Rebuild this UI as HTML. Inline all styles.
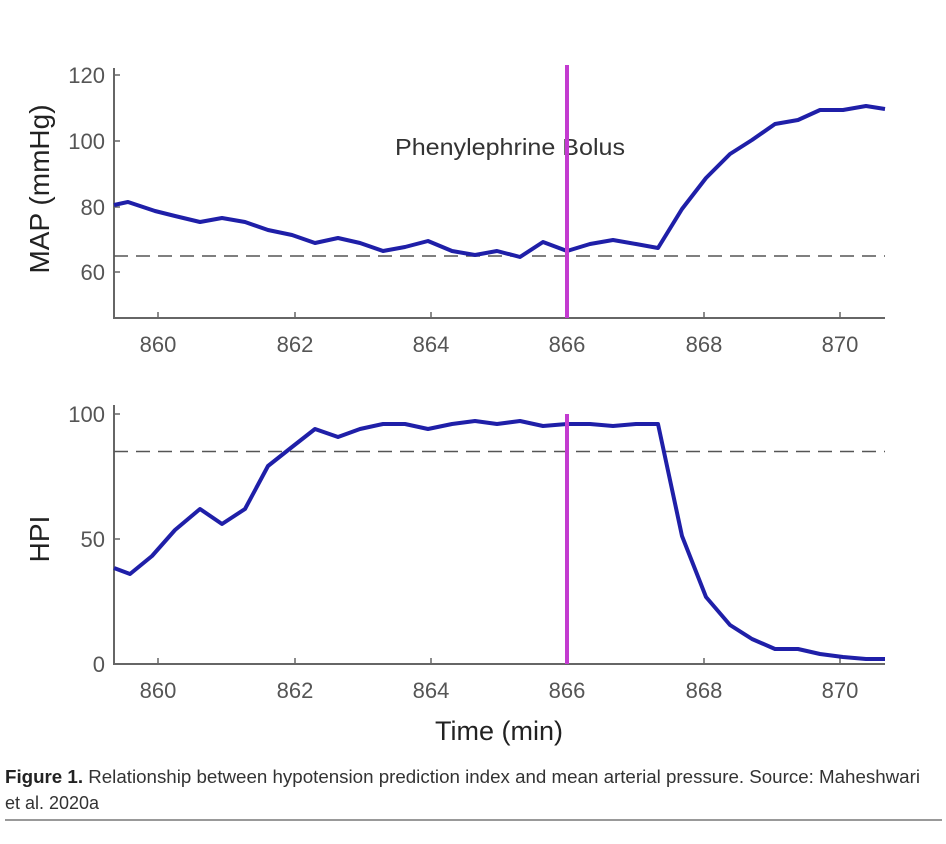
<!DOCTYPE html>
<html><head><meta charset="utf-8"><style>
body{margin:0;background:#fff;width:946px;height:839px;overflow:hidden}
svg text{font-family:"Liberation Sans",sans-serif}
.cap{font-family:"Liberation Sans Narrow","Liberation Sans",sans-serif;font-size:18px;fill:#333}
</style></head><body>
<svg width="946" height="839" viewBox="0 0 946 839">
<g stroke="#666" stroke-width="2" fill="none">
<path d="M114 68V318H885"/>
<path d="M114 405V664H885"/>
</g>
<g stroke="#666" stroke-width="1.5">
<path d="M114 75h6M114 141h6M114 207h6M114 272h6"/>
<path d="M158 318v-6M295 318v-6M431 318v-6M567 318v-6M704 318v-6M840 318v-6"/>
<path d="M114 414h6M114 539h6"/>
<path d="M158 664v-6M295 664v-6M431 664v-6M567 664v-6M704 664v-6M840 664v-6"/>
</g>
<g font-size="22" fill="#555" text-anchor="end">
<text x="105" y="83">120</text><text x="105" y="149">100</text><text x="105" y="215">80</text><text x="105" y="280">60</text>
<text x="105" y="422">100</text><text x="105" y="547">50</text><text x="105" y="672">0</text>
</g>
<g font-size="22" fill="#555" text-anchor="middle">
<text x="158" y="352">860</text><text x="295" y="352">862</text><text x="431" y="352">864</text><text x="567" y="352">866</text><text x="704" y="352">868</text><text x="840" y="352">870</text>
<text x="158" y="698">860</text><text x="295" y="698">862</text><text x="431" y="698">864</text><text x="567" y="698">866</text><text x="704" y="698">868</text><text x="840" y="698">870</text>
</g>
<text x="0" y="0" font-size="28" fill="#222" text-anchor="middle" transform="translate(49 189) rotate(-90)">MAP (mmHg)</text>
<text x="0" y="0" font-size="28" fill="#222" text-anchor="middle" transform="translate(49 539) rotate(-90)">HPI</text>
<text x="499" y="740" font-size="27" fill="#222" text-anchor="middle">Time (min)</text>
<text x="510" y="155" font-size="23" fill="#333" text-anchor="middle" textLength="230" lengthAdjust="spacingAndGlyphs">Phenylephrine Bolus</text>
<g stroke="#555" stroke-width="1.5" stroke-dasharray="14 8" fill="none">
<path d="M114 256H885"/><path d="M114 451.5H885"/>
</g>
<g stroke="#1f1fa8" stroke-width="4" fill="none" stroke-linejoin="round">
<polyline points="114,205 128,202 155,211 175,216 200,222 222,218 245,222 268,230 292,235 315,243 338,238 360,243 383,251 405,247 428,241 452,251 475,255 497,251 520,257 543,242 567,251 590,244 613,240 636,244 658,248 682,209 706,178 730,154 752,140 775,124 798,120 820,110 843,110 866,106 885,109"/>
<polyline points="114,568 130,574 152,556 175,530 200,509 222,524 245,509 268,466 292,447 315,429 338,437 360,429 383,424 405,424 428,429 452,424 475,421 497,424 520,421 543,426 567,424 590,424 613,426 636,424 658,424 682,536 706,597 730,625 752,639 775,649 798,649 820,654 843,657 866,659 885,659"/>
</g>
<g stroke="#c33bd0" stroke-width="4">
<path d="M567 65V318"/><path d="M567 414V664"/>
</g>
<text class="cap" x="5" y="783" textLength="915" lengthAdjust="spacingAndGlyphs"><tspan font-weight="bold" fill="#222">Figure 1.</tspan> Relationship between hypotension prediction index and mean arterial pressure. Source: Maheshwari</text>
<text class="cap" x="5" y="809" textLength="94" lengthAdjust="spacingAndGlyphs">et al. 2020a</text>
<path d="M5 820H942" stroke="#999" stroke-width="2"/>
</svg>
</body></html>
